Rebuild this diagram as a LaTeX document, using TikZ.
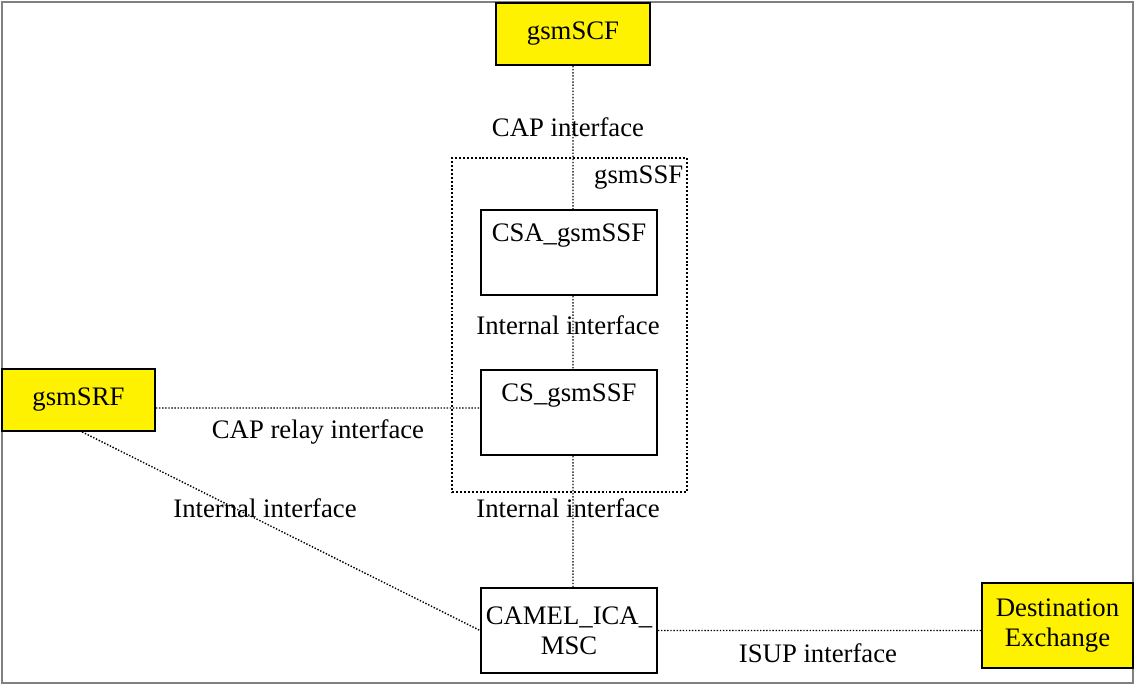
\documentclass[tikz,border=0pt]{standalone}
\usepackage{fontspec}
\setmainfont{Liberation Serif}
\usetikzlibrary{positioning}
\tikzset {
    x=0.025cm, y=-0.025cm,
    every node/.style={font=\fontsize{19}{21.5}\selectfont},
    box/.style={draw, line width=1.3pt, align=center, inner sep=0pt},
    entity/.style={box, fill=yellow},
    link/.style={line width=1pt, dash pattern=on 1pt off 1.2pt},
    frame/.style={draw, line width=1.4pt, dash pattern=on 1.4pt off 1.4pt},
    tag/.style={inner sep=1pt}
}

\begin{document}
\begin{tikzpicture}
    \useasboundingbox (0,0) rectangle (1134,686);
    \draw[gray, line width=0.8pt] (2,2) rectangle (1133,683);

    \node[entity, minimum width=3.85cm, minimum height=1.55cm] (scf) at (573,34) {gsmSCF};
    \node[frame, minimum width=5.875cm, minimum height=8.35cm] (ssf) at (569.5,325) {};
    \node[box, minimum width=4.4cm, minimum height=2.125cm] (csa) at (569,252.5) {CSA\_gsmSSF\\\strut};
    \node[box, minimum width=4.4cm, minimum height=2.125cm] (cs) at (569,412.5) {CS\_gsmSSF\\\strut};
    \node[entity, minimum width=3.825cm, minimum height=1.55cm] (srf) at (78.5,400) {gsmSRF};
    \node[box, minimum width=4.4cm, minimum height=2.125cm] (camel) at (569,630.5) {CAMEL\_ICA\_\\MSC};
    \node[entity, minimum width=3.775cm, minimum height=2.125cm] (dest) at (1057.5,625.5) {Destination\\Exchange};

    \coordinate (spine) at (573,0);
    \draw[link]
    (scf.south) -- (spine |- csa.north)
    (spine |- csa.south) -- (spine |- cs.north)
    (spine |- cs.south) -- (spine |- camel.north)
    ([yshift=-0.2cm]srf.east) -- ([yshift=-0.2cm]srf.east -| cs.west)
    ([xshift=0.09cm]srf.south) -- (camel.west)
    (camel.east) -- (camel.east -| dest.west);

    \node[tag] (capif) at (568,127) {CAP interface};
    \node[tag, anchor=east] (ssflbl) at (685,178) {gsmSSF};
    \node[tag] (intif1) at (568,325) {Internal interface};
    \node[tag] (relayif) at (318,432) {CAP relay interface};
    \node[tag] (intif2) at (265,508) {Internal interface};
    \node[tag] (intif3) at (568,508) {Internal interface};
    \node[tag] (isupif) at (818,653) {ISUP interface};
\end{tikzpicture}
\end{document}
